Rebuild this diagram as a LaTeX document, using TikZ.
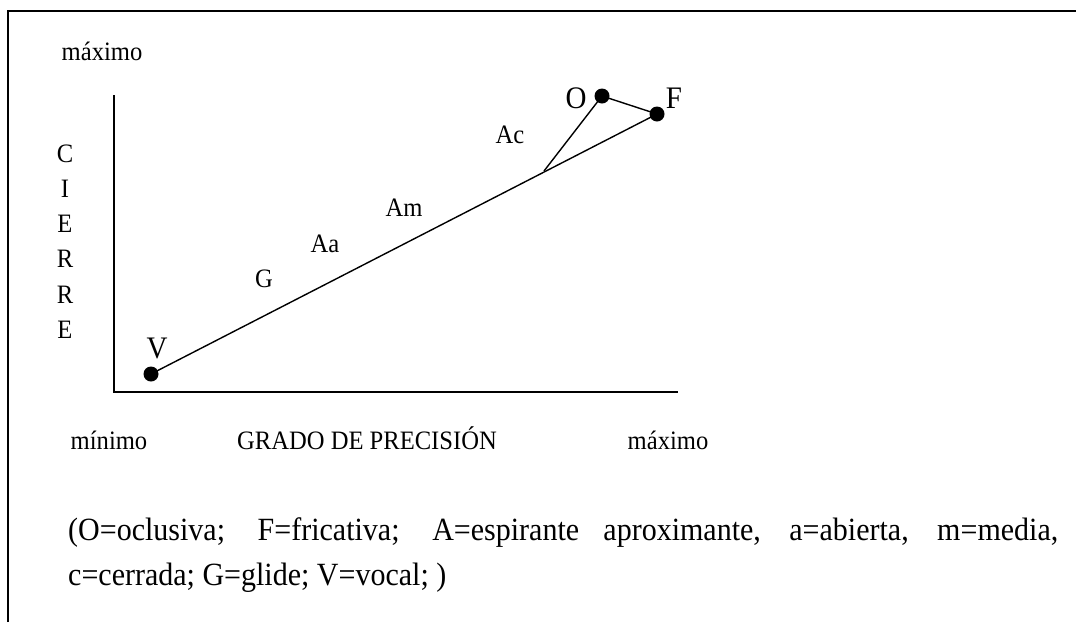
\documentclass[tikz,border=0pt]{standalone}
\usepackage{fontspec}
\usepackage{graphicx}
\setmainfont{Liberation Serif}
\newcommand{\tallt}[1]{\scalebox{1}[1.08]{#1}}
\begin{document}
\begin{tikzpicture}[x=1pt,y=-1pt,
  lbl/.style={inner sep=0pt,anchor=base,font=\fontsize{24.6}{30}\selectfont},
  big/.style={inner sep=0pt,anchor=base,font=\fontsize{29}{34}\selectfont},
  dotnode/.style={circle,fill=black,inner sep=0pt,minimum size=15pt},
  ax/.style={line width=2pt},
  ln/.style={line width=1.4pt}]
\useasboundingbox (0,0) rectangle (1076,622);
% frame
\coordinate (fl) at (8,622);
\coordinate (ftl) at (8,11);
\coordinate (fr) at (1076,11);
\draw[line width=1.5pt] (fl) -- (ftl) -- (fr);
% axes
\coordinate (ytop) at (114,95);
\coordinate (orig) at (114,392);
\coordinate (xend) at (678,392);
\draw[ax] (ytop) -- (orig) -- (xend);
% axis labels
\node[lbl] (ymax) at (102,60) {\tallt{máximo}};
\node[lbl] (xmin) at (109,449) {\tallt{mínimo}};
\node[lbl] (xlab) at (367,449) {\tallt{GRADO DE PRECISIÓN}};
\node[lbl] (xmax) at (668,449) {\tallt{máximo}};
\node[lbl] (c1) at (65,162) {\tallt{C}};
\node[lbl] (c2) at (65,197) {\tallt{I}};
\node[lbl] (c3) at (65,232) {\tallt{E}};
\node[lbl] (c4) at (65,267) {\tallt{R}};
\node[lbl] (c5) at (65,303) {\tallt{R}};
\node[lbl] (c6) at (65,338) {\tallt{E}};
% points
\node[dotnode] (V) at (151,374) {};
\node[dotnode] (F) at (657,114) {};
\node[dotnode] (O) at (602,96) {};
\coordinate (J) at (544,171);
\draw[ln] (V.center) -- (F.center);
\draw[ln] (J) -- (O.center) -- (F.center);
\node[big] (Vl) at (157,358) {\tallt{V}};
\node[big] (Fl) at (674,108) {\tallt{F}};
\node[big] (Ol) at (576,108) {\tallt{O}};
\node[lbl] (G) at (264,287) {\tallt{G}};
\node[lbl] (Aa) at (325,252) {\tallt{Aa}};
\node[lbl] (Am) at (404,216) {\tallt{Am}};
\node[lbl] (Ac) at (510,143) {\tallt{Ac}};
% legend
\node[inner sep=0pt,anchor=base west] (leg) at (68,540)
  {\tallt{\parbox[t]{990pt}{\fontsize{30}{41.7}\selectfont\noindent
  (O=oclusiva; F=fricativa; A=espirante aproximante, a=abierta, m=media,\linebreak c=cerrada; G=glide; V=vocal; )}}};
\end{tikzpicture}
\end{document}
